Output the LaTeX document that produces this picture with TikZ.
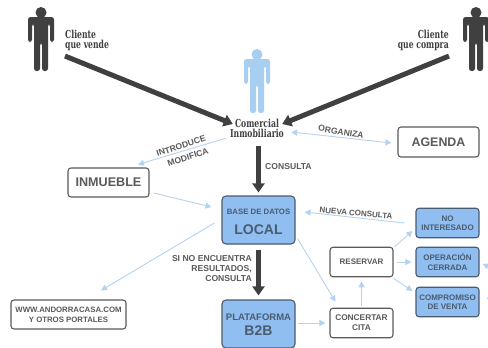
\documentclass[tikz,border=0pt]{standalone}
\usepackage{fontspec}
\setmainfont{Liberation Sans}
\newfontfamily\slabfont[FakeStretch=0.7]{DejaVu Serif}
\usetikzlibrary{arrows.meta}
\definecolor{ink}{HTML}{404040}
\definecolor{txt}{HTML}{5A5A5A}
\definecolor{bluetxt}{HTML}{4A5C70}
\definecolor{bl}{HTML}{B4D3F0}
\definecolor{boxb}{HTML}{90BEF0}
\definecolor{per}{HTML}{A8CFF2}
\tikzset{
 x=1pt,y=-1pt,
 whitebox/.style={draw=txt,line width=1.1pt,rounded corners=3pt,fill=white,inner sep=0pt,align=center,text=txt,font=\bfseries},
 bluebox/.style={whitebox,fill=boxb,draw=bluetxt,text=bluetxt},
 bigbox/.style={bluebox,rounded corners=4pt,minimum width=73pt,minimum height=48pt},
 smallbox/.style={minimum width=63pt,minimum height=29.5pt,font=\bfseries\fontsize{8}{9.5}\selectfont},
 thick arrow/.style={draw=ink,line width=5pt,-{Triangle[length=9pt,width=12pt]}},
 thin arrow/.style={draw=bl,line width=.9pt,-{Triangle[length=6pt,width=6pt]}},
 thin both/.style={draw=bl,line width=.9pt,{Triangle[length=6pt,width=6pt]}-{Triangle[length=6pt,width=6pt]}},
 lab/.style={text=txt,font=\bfseries\fontsize{8.6}{10}\selectfont,align=center,inner sep=0pt},
 slab/.style={text=ink,font=\slabfont\bfseries\fontsize{11}{10}\selectfont,inner sep=0pt},
 person/.pic={
   \fill (0,-20.5) circle (5.5);
   \fill[rounded corners=2.5pt] (-13,-16) -- (13,-16) -- (13,9) -- (9,9) -- (9,-9) -- (7,-9) -- (7,38) -- (1,38) -- (1,10) -- (-1,10) -- (-1,38) -- (-7,38) -- (-7,-9) -- (-9,-9) -- (-9,9) -- (-13,9) -- cycle;
 }
}
\begin{document}
\begin{tikzpicture}
\path[use as bounding box] (0,0) rectangle (488,348);
\fill[white] (0,0) rectangle (488,348);
\pic[ink] at (41,33) {person};
\pic[ink] at (476,33) {person};
\pic[per] at (257,75) {person};
\node[slab,align=left,anchor=north west,minimum height=20pt] (cv) at (65,30) {Cliente\\que vende};
\node[slab,align=right,anchor=north east,minimum height=20pt] (cc) at (449,30) {Cliente\\que compra};
\node[slab,align=center,minimum width=54pt,minimum height=22pt] (com) at (257,128.5) {Comercial\\Inmobiliario};
\node[whitebox,minimum width=81pt,minimum height=29pt,font=\bfseries\fontsize{12.6}{14}\selectfont] (inm) at (108.5,182.5) {INMUEBLE};
\node[whitebox,minimum width=81pt,minimum height=30pt,font=\bfseries\fontsize{12.4}{14}\selectfont] (age) at (438.5,142) {AGENDA};
\node[bigbox] (loc) at (258.5,220) {};
\node[lab,text=bluetxt,font=\bfseries\fontsize{7.8}{9}\selectfont] at (258.5,212) {BASE DE DATOS};
\node[text=bluetxt,font=\bfseries\fontsize{14}{16}\selectfont,inner sep=0pt] at (258.5,230) {LOCAL};
\node[bigbox] (b2b) at (258.5,324) {};
\node[lab,text=bluetxt,font=\bfseries\fontsize{9.5}{11}\selectfont] at (258.5,317) {PLATAFORMA};
\node[text=bluetxt,font=\bfseries\fontsize{14}{16}\selectfont,inner sep=0pt] at (258.5,331) {B2B};
\node[whitebox,minimum width=115pt,minimum height=29pt,font=\bfseries\fontsize{7.8}{10}\selectfont] (web) at (68.5,314.5) {WWW.ANDORRACASA.COM\\Y OTROS PORTALES};
\node[whitebox,smallbox,font=\bfseries\fontsize{8.3}{10}\selectfont] (con) at (361.5,323) {CONCERTAR\\CITA};
\node[whitebox,smallbox] (res) at (361.5,262) {RESERVAR};
\node[bluebox,smallbox] (noi) at (447.5,223) {NO\\INTERESADO};
\node[bluebox,smallbox] (ope) at (447.5,262) {OPERACIÓN\\CERRADA};
\node[bluebox,smallbox] (cmp) at (447.5,302) {COMPROMISO\\DE VENTA};
\coordinate (pfree) at (492,268);
\coordinate (qfree) at (494,296);
\draw[thick arrow] ([yshift=-5pt]cv.south west) -- ([xshift=3pt,yshift=4.5pt]com.west);
\draw[thick arrow] ([yshift=-5pt]cc.south east) -- ([xshift=-2pt,yshift=4.5pt]com.east);
\draw[thick arrow] ([xshift=1.5pt,yshift=-6.5pt]com.south) -- ([yshift=3pt]loc.north);
\draw[thick arrow] ([yshift=-5pt]loc.south) -- ([yshift=4pt]b2b.north);
\draw[thin arrow] ([xshift=-4pt,yshift=1.5pt]com.south west) -- ([xshift=29.5pt,yshift=3pt]inm.north);
\draw[thin both] ([xshift=7pt,yshift=-3.5pt]com.east) -- ([xshift=-6pt,yshift=-1pt]age.west);
\draw[thin arrow] ([xshift=4pt,yshift=-10.5pt]inm.east) -- ([xshift=-10pt,yshift=13pt]loc.west);
\draw[thin arrow] ([xshift=-7pt,yshift=-3pt]loc.west) -- ([xshift=32.5pt,yshift=9pt]web.north);
\draw[thin arrow] ([xshift=2pt,yshift=6pt]loc.south east) -- ([xshift=6pt,yshift=6pt]con.north west);
\draw[thin arrow] ([xshift=2pt,yshift=1pt]b2b.east) -- ([xshift=-4pt]con.west);
\draw[thin arrow] ([yshift=2pt]con.north) -- ([yshift=-4pt]res.south);
\draw[thin arrow] ([xshift=1pt]res.north east) -- ([xshift=-3pt,yshift=-8pt]noi.west);
\draw[thin arrow] ([xshift=3pt]res.east) -- ([xshift=-4pt]ope.west);
\draw[thin arrow] ([yshift=-1pt]res.south east) -- ([xshift=-3pt,yshift=11pt]cmp.west);
\draw[thin arrow] ([xshift=-11pt]noi.west) -- ([xshift=9pt,yshift=8pt]loc.east);
\draw[thin arrow] (pfree) -- ([xshift=3pt,yshift=-2pt]ope.east);
\draw[thin arrow] (qfree) -- ([xshift=7pt,yshift=3pt]cmp.east);
\node[lab,rotate=18] at (181,146) {INTRODUCE};
\node[lab,rotate=18] at (188,157) {MODIFICA};
\node[lab,rotate=-10] at (341,132) {ORGANIZA};
\node[lab,anchor=west] at (265,167) {CONSULTA};
\node[lab,rotate=-5,font=\bfseries\fontsize{8}{10}\selectfont] at (356,213) {NUEVA CONSULTA};
\node[lab,align=right,anchor=east] at (252,269) {SI NO ENCUENTRA\\RESULTADOS,\\CONSULTA};
\end{tikzpicture}
\end{document}
